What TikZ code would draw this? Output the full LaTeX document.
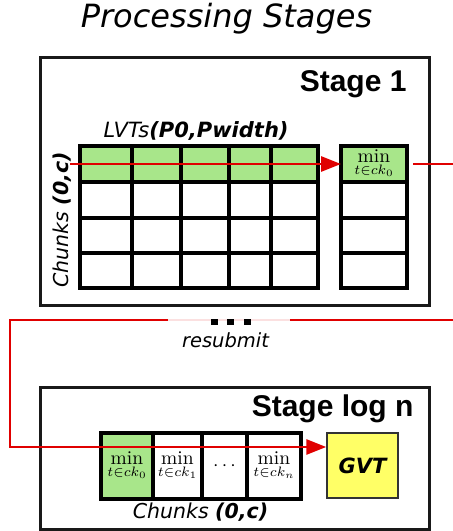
\documentclass[tikz,border=0pt]{standalone}
\usepackage{fontspec}
\usetikzlibrary{arrows.meta}
\newfontfamily\dvs{DejaVu Sans}[ItalicFont={DejaVu Sans Oblique},BoldFont={DejaVu Sans Bold},BoldItalicFont={DejaVu Sans Bold Oblique}]
\newfontfamily\arb{Liberation Sans}
\definecolor{cgreen}{HTML}{A8E68A}
\definecolor{cred}{HTML}{E00000}
\definecolor{cyel}{HTML}{FFFF66}
\newcommand{\mintext}[1]{\scalebox{1.95}{$\min\limits_{t\in ck_{#1}}$}}
\begin{document}
\begin{tikzpicture}[x=1pt,y=-1pt,
  stagebox/.style={draw=black!90,line width=3pt,inner sep=0,outer sep=0},
  gcell/.style={draw=black,line width=3.5pt,inner sep=0,outer sep=0},
  rline/.style={draw=cred,line width=2.8pt},
  tip/.style={-{Triangle[length=20pt,width=15pt]}},
  dvtext/.style={font=\dvs\fontsize{20.5}{24}\selectfont},
  dot/.style={fill=black,inner sep=0,minimum width=7,minimum height=6}]
\useasboundingbox (0,0) rectangle (453,531);
% title
\node[anchor=base,font=\dvs\itshape\fontsize{32}{38}\selectfont] (title) at (226.5,27) {Processing Stages};
% stage 1
\node[stagebox,minimum width=389,minimum height=248] (s1) at (234.5,181) {};
\node[anchor=base east,font=\arb\bfseries\fontsize{30}{36}\selectfont] (s1t) at (410,91) {Stage 1};
\node[anchor=base west,font=\dvs\fontsize{21}{24}\selectfont] (lvt) at (100,137) {\itshape LVTs\bfseries(P0,Pwidth)};
\node[rotate=90,dvtext] (ck1) at (62,220) {\itshape Chunks \bfseries(0,c)};
% grid
\foreach \xa/\xb [count=\i] in {80/132,132/181,181/229,229/271,271/318}{
  \node[gcell,fill=cgreen,minimum width={(\xb-\xa)*1pt},minimum height=36] (g-\i-1) at ({(\xa+\xb)/2},164) {};
  \foreach \ya/\yb [count=\j from 2] in {182/218,218/253,253/288}{
    \node[gcell,minimum width={(\xb-\xa)*1pt},minimum height={(\yb-\ya)*1pt}] (g-\i-\j) at ({(\xa+\xb)/2},{(\ya+\yb)/2}) {};
  }}
% min column
\node[gcell,fill=cgreen,minimum width=66,minimum height=36] (m-1) at (374,164) {\mintext{0}};
\node[gcell,minimum width=66,minimum height=36] (m-2) at (374,200) {};
\node[gcell,minimum width=66,minimum height=35] (m-3) at (374,235.5) {};
\node[gcell,minimum width=66,minimum height=35] (m-4) at (374,270.5) {};
\coordinate (a0) at (70,164);
\draw[rline,tip] (a0) -- (m-1.west);
\coordinate (e0) at (413,164);
\coordinate (e1) at (453,164);
\draw[rline] (e0) -- (e1);
% stage log n
\node[stagebox,minimum width=389,minimum height=142] (s2) at (234.5,458) {};
\node[anchor=base east,font=\arb\bfseries\fontsize{30}{36}\selectfont] (s2t) at (417,416) {Stage log n};
\node[gcell,fill=cgreen,minimum width=52,minimum height=66] (l-1) at (127,466) {\mintext{0}};
\node[gcell,minimum width=49,minimum height=66] (l-2) at (177.5,466) {\mintext{1}};
\node[gcell,minimum width=45,minimum height=66] (l-3) at (224.5,466) {\scalebox{1.95}{$\cdots$}};
\node[gcell,minimum width=54,minimum height=66] (l-4) at (274,466) {\mintext{n}};
\node[draw=black!80,line width=1.5pt,fill=cyel,minimum width=71,minimum height=65,font=\dvs\bfseries\itshape\fontsize{21}{24}\selectfont] (gvt) at (362.5,465.5) {GVT};
\node[anchor=base,dvtext] (ck2) at (200.5,518) {\itshape Chunks \bfseries(0,c)};
% resubmit path
\coordinate (r0) at (453,320);
\coordinate (r1) at (10,320);
\coordinate (r2) at (10,447);
\draw[rline,tip] (r0) -- (r1) -- (r2) -- (r2 -| gvt.west);
\node[fill=white,fill opacity=0.88,inner sep=0,minimum width=122,minimum height=30] (rs) at (229,331) {};
\node[dot] (d1) at (214,321.5) {};
\node[dot] (d2) at (230,321.5) {};
\node[dot] (d3) at (247,321.5) {};
\node[anchor=base,font=\dvs\itshape\fontsize{19.5}{22}\selectfont] (rt) at (225.5,347) {resubmit};
\end{tikzpicture}
\end{document}
